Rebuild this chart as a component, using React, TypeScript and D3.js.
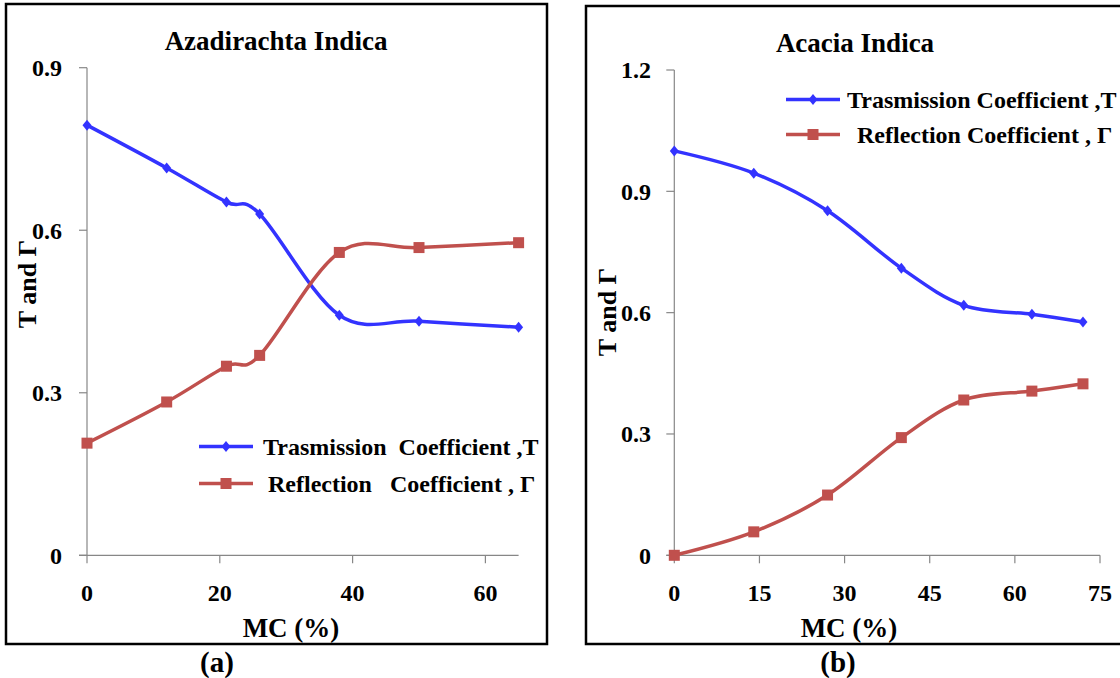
import React from 'react';
import * as d3 from 'd3';

// panel (a) Azadirachta Indica
const mcA = [0, 12, 21, 26, 38, 50, 65];
const transA = [0.794, 0.715, 0.652, 0.63, 0.443, 0.432, 0.421];
const reflA = [0.207, 0.283, 0.349, 0.369, 0.559, 0.568, 0.577];
const xTicksA = [0, 20, 40, 60];
const yTicksA = [0, 0.3, 0.6, 0.9];

// panel (b) Acacia Indica
const mcB = [0, 14, 27, 40, 51, 63, 72];
const transB = [1.0, 0.945, 0.852, 0.71, 0.618, 0.596, 0.577];
const reflB = [0, 0.058, 0.149, 0.291, 0.384, 0.406, 0.424];
const xTicksB = [0, 15, 30, 45, 60, 75];
const yTicksB = [0, 0.3, 0.6, 0.9, 1.2];

const BLUE = '#3333ff';
const RED = '#c0504d';
const AXIS = '#878787';
const FONT = '"Liberation Serif", "Times New Roman", serif';

function Diamond({ x, y }: { x: number; y: number }) {
  return <path d={`M${x},${y - 5.5}L${x + 4.5},${y}L${x},${y + 5.5}L${x - 4.5},${y}Z`} fill={BLUE} />;
}
function Square({ x, y }: { x: number; y: number }) {
  return <rect x={x - 5.5} y={y - 5.5} width={11} height={11} fill={RED} />;
}

function Panel(props: any) {
  const { xs, t, r, xTicks, yTicks, xMax, yMax, left, right, top, bottom, title, titleX, titleY,
    legX, legY, legTX, legRX, legT, legR, yTitleX, yTitleY, xTitleX, tickRight } = props;
  const x = d3.scaleLinear().domain([0, xMax]).range([left, right]);
  const y = d3.scaleLinear().domain([0, yMax]).range([bottom, top]);
  const line = d3.line<number>()
    .x((_, i) => x(xs[i]))
    .y(d => y(d))
    .curve(d3.curveCardinal.tension(0));

  return (
    <g fontFamily={FONT} fontWeight="bold" fill="#000">
      <text x={titleX} y={titleY} fontSize={27} textAnchor="middle">{title}</text>
      {/* axes */}
      <line x1={left} x2={left} y1={bottom} y2={top} stroke={AXIS} strokeWidth={1.2} />
      <line x1={left - 8} x2={right} y1={bottom} y2={bottom} stroke={AXIS} strokeWidth={1.2} />
      {yTicks.map((v: number) => (
        <g key={'y' + v}>
          <line x1={left - 8} x2={left} y1={y(v)} y2={y(v)} stroke={AXIS} strokeWidth={1.2} />
          <text x={tickRight} y={y(v)} dy="0.35em" fontSize={24} textAnchor="end">{String(v)}</text>
        </g>
      ))}
      {xTicks.map((v: number) => (
        <g key={'x' + v}>
          <line x1={x(v)} x2={x(v)} y1={bottom} y2={bottom + 8} stroke={AXIS} strokeWidth={1.2} />
          <text x={x(v)} y={601} fontSize={24} textAnchor="middle">{String(v)}</text>
        </g>
      ))}
      <text x={xTitleX} y={637} fontSize={27} textAnchor="middle">MC (%)</text>
      <text transform={`translate(${yTitleX},${yTitleY}) rotate(-90)`} dy="0.35em" fontSize={26} textAnchor="middle">T and Γ</text>
      {/* series */}
      <path d={line(t) || ''} fill="none" stroke={BLUE} strokeWidth={3.5} />
      <path d={line(r) || ''} fill="none" stroke={RED} strokeWidth={3.5} />
      {t.map((v: number, i: number) => <Diamond key={'t' + i} x={x(xs[i])} y={y(v)} />)}
      {r.map((v: number, i: number) => <Square key={'r' + i} x={x(xs[i])} y={y(v)} />)}
      {/* legend */}
      <line x1={legX} x2={legX + 54} y1={legY[0]} y2={legY[0]} stroke={BLUE} strokeWidth={3.5} />
      <Diamond x={legX + 27} y={legY[0]} />
      <text x={legTX} y={legY[0]} dy="0.35em" fontSize={24} style={{ whiteSpace: 'pre' }}>{legT}</text>
      <line x1={legX} x2={legX + 54} y1={legY[1]} y2={legY[1]} stroke={RED} strokeWidth={3.5} />
      <Square x={legX + 27} y={legY[1]} />
      <text x={legRX} y={legY[1]} dy="0.35em" fontSize={24} style={{ whiteSpace: 'pre' }}>{legR}</text>
    </g>
  );
}

export default function App() {
  return (
    <svg width={1120} height={678} style={{ position: 'absolute', left: 0, top: 0, background: '#fff' }}>
      <rect x={0} y={0} width={1120} height={678} fill="#fff" />
      <rect x={6} y={4} width={541} height={640} fill="none" stroke="#000" strokeWidth={2.5} />
      <path d="M1121,6H586V644H1121" fill="none" stroke="#000" strokeWidth={2.5} />
      <Panel xs={mcA} t={transA} r={reflA} xTicks={xTicksA} yTicks={yTicksA} xMax={65} yMax={0.9}
        left={87} right={518.6} top={67.7} bottom={555.3}
        title="Azadirachta Indica" titleX={276} titleY={50}
        legX={199} legY={[446.5, 483.5]} legTX={263} legRX={268}
        legT="Trasmission  Coefficient ,T" legR="Reflection   Coefficient , Γ"
        yTitleX={27} yTitleY={284} xTitleX={291} tickRight={62} />
      <Panel xs={mcB} t={transB} r={reflB} xTicks={xTicksB} yTicks={yTicksB} xMax={75} yMax={1.2}
        left={674.3} right={1100} top={70} bottom={555.3}
        title="Acacia Indica" titleX={855} titleY={52}
        legX={786} legY={[99.5, 134.5]} legTX={847} legRX={857}
        legT="Trasmission Coefficient ,T" legR="Reflection Coefficient , Γ"
        yTitleX={607} yTitleY={312} xTitleX={849} tickRight={651} />
      <text x={217} y={672} fontFamily={FONT} fontWeight="bold" fontSize={29} textAnchor="middle">(a)</text>
      <text x={838} y={672} fontFamily={FONT} fontWeight="bold" fontSize={29} textAnchor="middle">(b)</text>
    </svg>
  );
}
